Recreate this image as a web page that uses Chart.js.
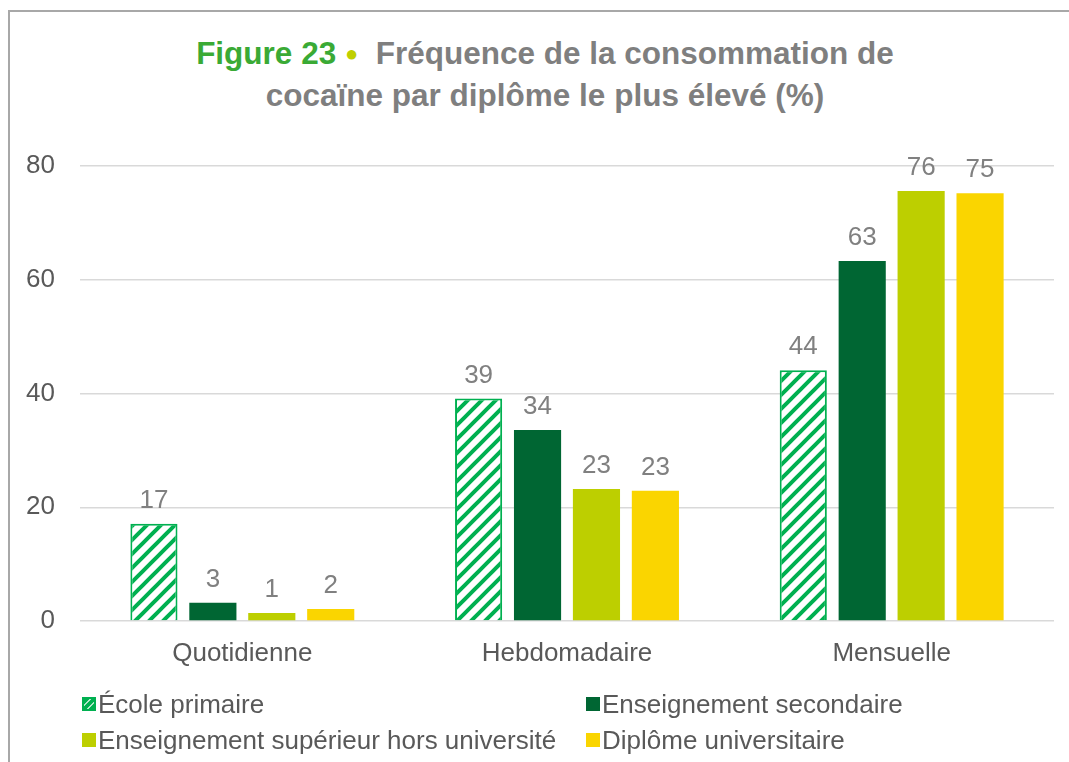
<!DOCTYPE html>
<html>
<head>
<meta charset="utf-8">
<script src="https://cdn.jsdelivr.net/npm/chart.js@4/dist/chart.umd.min.js"></script>
<style>
  html, body { margin: 0; padding: 0; background: #fff; overflow: hidden; }
  body { width: 1069px; height: 762px; position: relative; font-family: "Liberation Sans", Arial, sans-serif; }
  .frame { position: absolute; left: 8px; top: 10px; width: 1200px; height: 900px;
           border-left: 2px solid #a8a8a8; border-top: 2px solid #a8a8a8; }
  .title { position: absolute; left: 0; width: 1090px; top: 34px; text-align: center;
           font-weight: bold; font-size: 31.5px; line-height: 38px; color: #7f7f7f; }
  .title .fig { color: #3aaa35; }
  .title .dot { color: #bfcf00; font-size: 22px; position: relative; top: -3px; }
  #wrap { position: absolute; left: 0; top: 0; width: 1069px; height: 762px; }
  .legend { position: absolute; left: 82px; top: 689px; display: grid;
            grid-template-columns: 504px 480px; row-gap: 6px; font-size: 26px; color: #595959; }
  .legend .item { display: flex; align-items: center; height: 30px; white-space: nowrap; }
  .legend .sw { width: 14px; height: 14px; margin-right: 2px; box-sizing: border-box; }
</style>
</head>
<body>
<div class="frame"></div>
<div class="title"><span class="fig">Figure 23</span> <span class="dot">●</span>&nbsp; Fréquence de la consommation de<br>cocaïne par diplôme le plus élevé (%)</div>
<div id="wrap"><canvas id="chart" width="1069" height="762"></canvas></div>
<div class="legend" id="legend"></div>
<script>
// ---- data ----
const categories = ['Quotidienne', 'Hebdomadaire', 'Mensuelle'];
const seriesNames = ['École primaire', 'Enseignement secondaire', 'Enseignement supérieur hors université', 'Diplôme universitaire'];
const ecolePrimaire = [17.1, 39.1, 44.1];
const secondaire = [3.2, 33.6, 63.3];
const superieur = [1.4, 23.2, 75.6];
const universitaire = [2.1, 22.9, 75.2];
const yTicks = [0, 20, 40, 60, 80];

const hatchGreen = '#00b050';
const colors = [hatchGreen, '#006633', '#bdcf00', '#fad500'];
const fontFamily = '"Liberation Sans", Arial, sans-serif';

// diagonal hatch pattern for "École primaire"
function makeHatch(size) {
  const c = document.createElement('canvas');
  c.width = size; c.height = size;
  const g = c.getContext('2d');
  g.fillStyle = '#fff';
  g.fillRect(0, 0, size, size);
  g.strokeStyle = hatchGreen;
  g.lineWidth = 4;
  g.beginPath();
  g.moveTo(-size, size * 2); g.lineTo(size * 2, -size);
  g.moveTo(-size, size); g.lineTo(size, -size);
  g.moveTo(0, size * 2); g.lineTo(size * 2, 0);
  g.stroke();
  return c;
}
const ctx = document.getElementById('chart').getContext('2d');
const hatch = ctx.createPattern(makeHatch(14), 'repeat');

// value labels above bars
const valueLabels = {
  id: 'valueLabels',
  afterDatasetsDraw(chart) {
    const c = chart.ctx;
    c.save();
    c.font = '26px ' + fontFamily;
    c.fillStyle = '#808080';
    c.textAlign = 'center';
    c.textBaseline = 'alphabetic';
    chart.data.datasets.forEach((ds, i) => {
      chart.getDatasetMeta(i).data.forEach((bar, j) => {
        c.fillText(Math.round(ds.data[j]), bar.x, bar.y - 16);
      });
    });
    c.restore();
  }
};

const allSeries = [ecolePrimaire, secondaire, superieur, universitaire];

new Chart(ctx, {
  type: 'bar',
  data: {
    labels: categories,
    datasets: allSeries.map((d, i) => ({
      label: seriesNames[i],
      data: d,
      backgroundColor: i === 0 ? hatch : colors[i],
      borderColor: colors[i],
      borderWidth: i === 0 ? 2 : 0,
      categoryPercentage: 0.726,
      barPercentage: 0.8
    }))
  },
  options: {
    responsive: false,
    animation: false,
    layout: { padding: { left: 8, right: 15, top: 166, bottom: 81 } },
    plugins: { legend: { display: false }, tooltip: { enabled: false } },
    scales: {
      x: {
        grid: { display: false },
        border: { display: false },
        ticks: { color: '#595959', font: { size: 26, family: fontFamily }, padding: 9 },
        afterFit: s => { s.height = 60; }
      },
      y: {
        min: 0, max: 80,
        afterBuildTicks: s => { s.ticks = yTicks.map(v => ({ value: v })); },
        grid: { color: '#d9d9d9', lineWidth: 1.5, drawTicks: false },
        border: { display: false },
        ticks: { color: '#595959', font: { size: 26, family: fontFamily }, padding: 25 },
        afterFit: s => { s.width = 72; }
      }
    }
  },
  plugins: [valueLabels]
});

// legend built from the series
const leg = document.getElementById('legend');
seriesNames.forEach((name, i) => {
  const item = document.createElement('div');
  item.className = 'item';
  const sw = document.createElement('canvas');
  sw.className = 'sw';
  sw.width = 14; sw.height = 14;
  const g = sw.getContext('2d');
  if (i === 0) {
    g.fillStyle = g.createPattern(makeHatch(7), 'repeat');
    g.fillRect(0, 0, 14, 14);
    g.strokeStyle = hatchGreen; g.lineWidth = 2;
    g.strokeRect(1, 1, 12, 12);
  } else {
    g.fillStyle = colors[i];
    g.fillRect(0, 0, 14, 14);
  }
  item.appendChild(sw);
  const t = document.createElement('span');
  t.textContent = name;
  item.appendChild(t);
  leg.appendChild(item);
});
</script>
</body>
</html>
